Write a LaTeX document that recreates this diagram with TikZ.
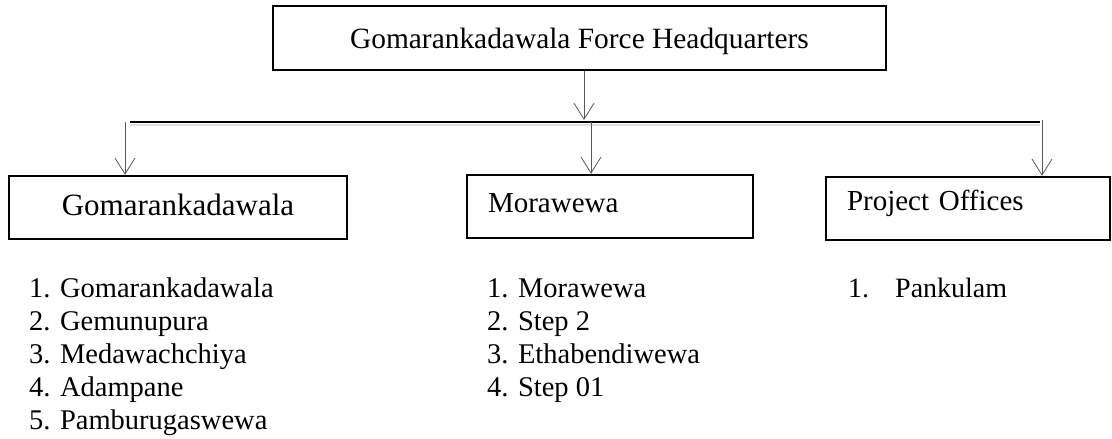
\documentclass[tikz,border=0pt]{standalone}
\usepackage{fontspec}
\setmainfont{Liberation Serif}
\usetikzlibrary{arrows.meta}
\tikzset{
  boxnode/.style={draw=black, line width=2.4pt, inner sep=0pt, anchor=center},
  arr/.style={draw=black!65, line width=0.8pt, -{Straight Barb[length=16pt,width=20pt,line width=0.8pt]}},
  bus/.style={draw=black, line width=1.2pt},
  busshadow/.style={draw=black!12, line width=2pt},
  listnode/.style={inner sep=0pt, anchor=north west, align=left, font=\fontsize{28.5}{33}\selectfont}
}
\begin{document}
\begin{tikzpicture}[x=1pt,y=-1pt]
\useasboundingbox (0,0) rectangle (1112,439);
% boxes
\node[boxnode, minimum width=613pt, minimum height=64pt, text height=20pt, text depth=0pt,
      font=\fontsize{29.4}{34}\selectfont] (hq) at (579.5,38) {Gomarankadawala Force Headquarters};
\node[boxnode, minimum width=338pt, minimum height=63pt, text height=21pt, text depth=6pt,
      font=\fontsize{31}{36}\selectfont] (gk) at (178,207.5) {Gomarankadawala};
\node[boxnode, minimum width=286pt, minimum height=63pt, text width=244pt, inner xsep=21pt, align=left,
      text height=20pt, text depth=9pt, font=\fontsize{29}{34}\selectfont] (mw) at (610,206.5) {Morawewa};
\node[boxnode, minimum width=284pt, minimum height=63pt, text width=242pt, inner xsep=21pt, align=left,
      text height=20pt, text depth=17pt, font=\fontsize{29}{34}\selectfont] (po) at (968,208.5) {Project Offices};
% bus
\coordinate (hl) at (130,122);
\coordinate (hr) at (1040,122);
\coordinate (ta) at (584,120);
\coordinate (la) at (125,122);
\coordinate (ma) at (591,122);
\coordinate (ra) at (1042,120);
\draw[busshadow] ([yshift=-2.5pt]hl) -- ([yshift=-2.5pt]hr);
\draw[bus] (hl) -- (hr);
\draw[arr] (ta |- hq.south) -- (ta);
\draw[arr] (la) -- (la |- gk.north);
\draw[arr] (ma) -- (ma |- mw.north);
\draw[arr] (ra) -- (ra |- po.north);
% lists
\node[listnode] (l1) at (29,277.5) {1. Gomarankadawala\\2. Gemunupura\\3. Medawachchiya\\4. Adampane\\5. Pamburugaswewa};
\node[listnode] (l2) at (487,278.5) {1. Morawewa\\2. Step 2\\3. Ethabendiwewa\\4. Step 01};
\node[listnode, font=\fontsize{28}{33}\selectfont] (l3) at (848,278) {\makebox[47pt][l]{1.}Pankulam};
\end{tikzpicture}
\end{document}
